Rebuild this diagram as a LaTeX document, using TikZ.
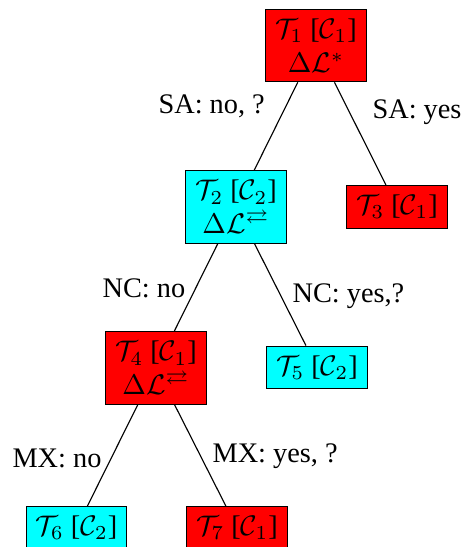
\documentclass[tikz,border=0pt]{standalone}
\usepackage{amssymb}
\usepackage[no-math]{fontspec}
\setmainfont{Liberation Serif}
\definecolor{boxred}{RGB}{255,0,0}
\definecolor{boxcyan}{RGB}{0,255,255}
\begin{document}
\begin{tikzpicture}[x=0.353pt,y=-0.353pt,
  box/.style={draw=black, inner sep=0.3333em, align=center},
  redbox/.style={box, fill=boxred},
  cyanbox/.style={box, fill=boxcyan},
  lab/.style={inner sep=0pt, anchor=base west}]
\useasboundingbox (0,0) rectangle (463,547);
\node[redbox]  (t1) at (316,45.5) {$\mathcal{T}_1$ [$\mathcal{C}_1$]\\ $\Delta\mathcal{L}^{*}$};
\node[cyanbox] (t2) at (236,207) {$\mathcal{T}_2$ [$\mathcal{C}_2$]\\ $\Delta\mathcal{L}^{\rightleftarrows}$};
\node[redbox]  (t3) at (397,207) {$\mathcal{T}_3$ [$\mathcal{C}_1$]};
\node[redbox]  (t4) at (156,368) {$\mathcal{T}_4$ [$\mathcal{C}_1$]\\ $\Delta\mathcal{L}^{\rightleftarrows}$};
\node[cyanbox] (t5) at (317,367.5) {$\mathcal{T}_5$ [$\mathcal{C}_2$]};
\node[cyanbox] (t6) at (76.5,528) {$\mathcal{T}_6$ [$\mathcal{C}_2$]};
\node[redbox]  (t7) at (237,528) {$\mathcal{T}_7$ [$\mathcal{C}_1$]};
\draw (t1) -- (t2);
\draw (t1) -- (t3);
\draw (t2) -- (t4);
\draw (t2) -- (t5);
\draw (t4) -- (t6);
\draw (t4) -- (t7);
\node[lab] (l1) at (158,113) {SA: no, ?};
\node[lab] (l2) at (372,118) {SA: yes};
\node[lab] (l3) at (102,297) {NC: no};
\node[lab] (l4) at (292,302) {NC: yes,?};
\node[lab] (l5) at (12,467) {MX: no};
\node[lab] (l6) at (212,462) {MX: yes, ?};
\end{tikzpicture}
\end{document}
